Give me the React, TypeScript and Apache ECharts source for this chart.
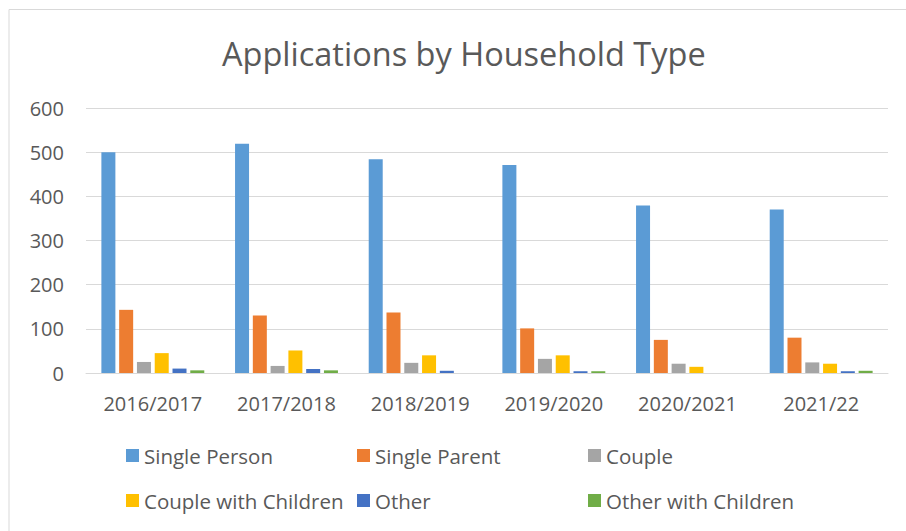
import React, { useEffect, useRef } from "react";
import * as echarts from "echarts";

const categories = ["2016/2017", "2017/2018", "2018/2019", "2019/2020", "2020/2021", "2021/22"];
const seriesNames = ["Single Person", "Single Parent", "Couple", "Couple with Children", "Other", "Other with Children"];
const singlePerson = [500, 519, 484, 471, 379, 370];
const singleParent = [143, 130, 137, 101, 75, 80];
const couple = [25, 16, 23, 32, 21, 24];
const coupleWithChildren = [45, 51, 40, 40, 14, 21];
const other = [10, 9, 5, 4, 0, 4];
const otherWithChildren = [6, 6, 0, 4, 0, 5];
const colors = ["#5b9bd5", "#ed7d31", "#a5a5a5", "#ffc000", "#4472c4", "#70ad47"];

export default function App() {
  const ref = useRef<HTMLDivElement>(null);
  useEffect(() => {
    if (!ref.current) return;
    const chart = echarts.init(ref.current, undefined, { renderer: "svg" });
    const values = [singlePerson, singleParent, couple, coupleWithChildren, other, otherWithChildren];
    const font = "'Open Sans', sans-serif";
    const textStyle = { color: "#595959", fontSize: 20, fontFamily: font };
    const legendBase = {
      orient: "vertical" as const,
      top: 445,
      padding: 0,
      itemWidth: 13,
      itemHeight: 13,
      itemGap: 24,
      icon: "rect",
      textStyle: { ...textStyle, fontSize: 20.5 },
    };
    chart.setOption({
      animation: false,
      color: colors,
      title: {
        text: "Applications by Household Type",
        left: 217,
        top: 32,
        textStyle: { color: "#595959", fontSize: 32.5, fontWeight: "normal", fontFamily: font },
      },
      legend: [
        { ...legendBase, left: 126, data: [seriesNames[0], seriesNames[3]] },
        { ...legendBase, left: 357, data: [seriesNames[1], seriesNames[4]] },
        { ...legendBase, left: 588, data: [seriesNames[2], seriesNames[5]] },
      ],
      grid: { left: 86, right: 18, top: 108, bottom: 158, containLabel: false },
      xAxis: {
        type: "category",
        data: categories,
        axisLine: { lineStyle: { color: "#d9d9d9", width: 1 } },
        axisTick: { show: false },
        axisLabel: { ...textStyle, margin: 20 },
      },
      yAxis: {
        type: "value",
        min: 0,
        max: 600,
        interval: 100,
        axisLine: { show: false },
        axisTick: { show: false },
        splitLine: { lineStyle: { color: "#d9d9d9", width: 1 } },
        axisLabel: { ...textStyle, margin: 22 },
      },
      graphic: [
        {
          type: "rect",
          shape: { x: 9, y: 9.5, width: 920, height: 540 },
          style: { fill: "none", stroke: "#d9d9d9", lineWidth: 1 },
          silent: true,
        },
      ],
      series: seriesNames.map((name, i) => ({
        name,
        type: "bar",
        data: values[i],
        barWidth: 14,
        barGap: "27%",
        itemStyle: { color: colors[i] },
      })),
    });
    return () => chart.dispose();
  }, []);
  return (
    <div
      ref={ref}
      style={{ position: "fixed", left: 0, top: 0, width: 906, height: 531, background: "#fff" }}
    />
  );
}
